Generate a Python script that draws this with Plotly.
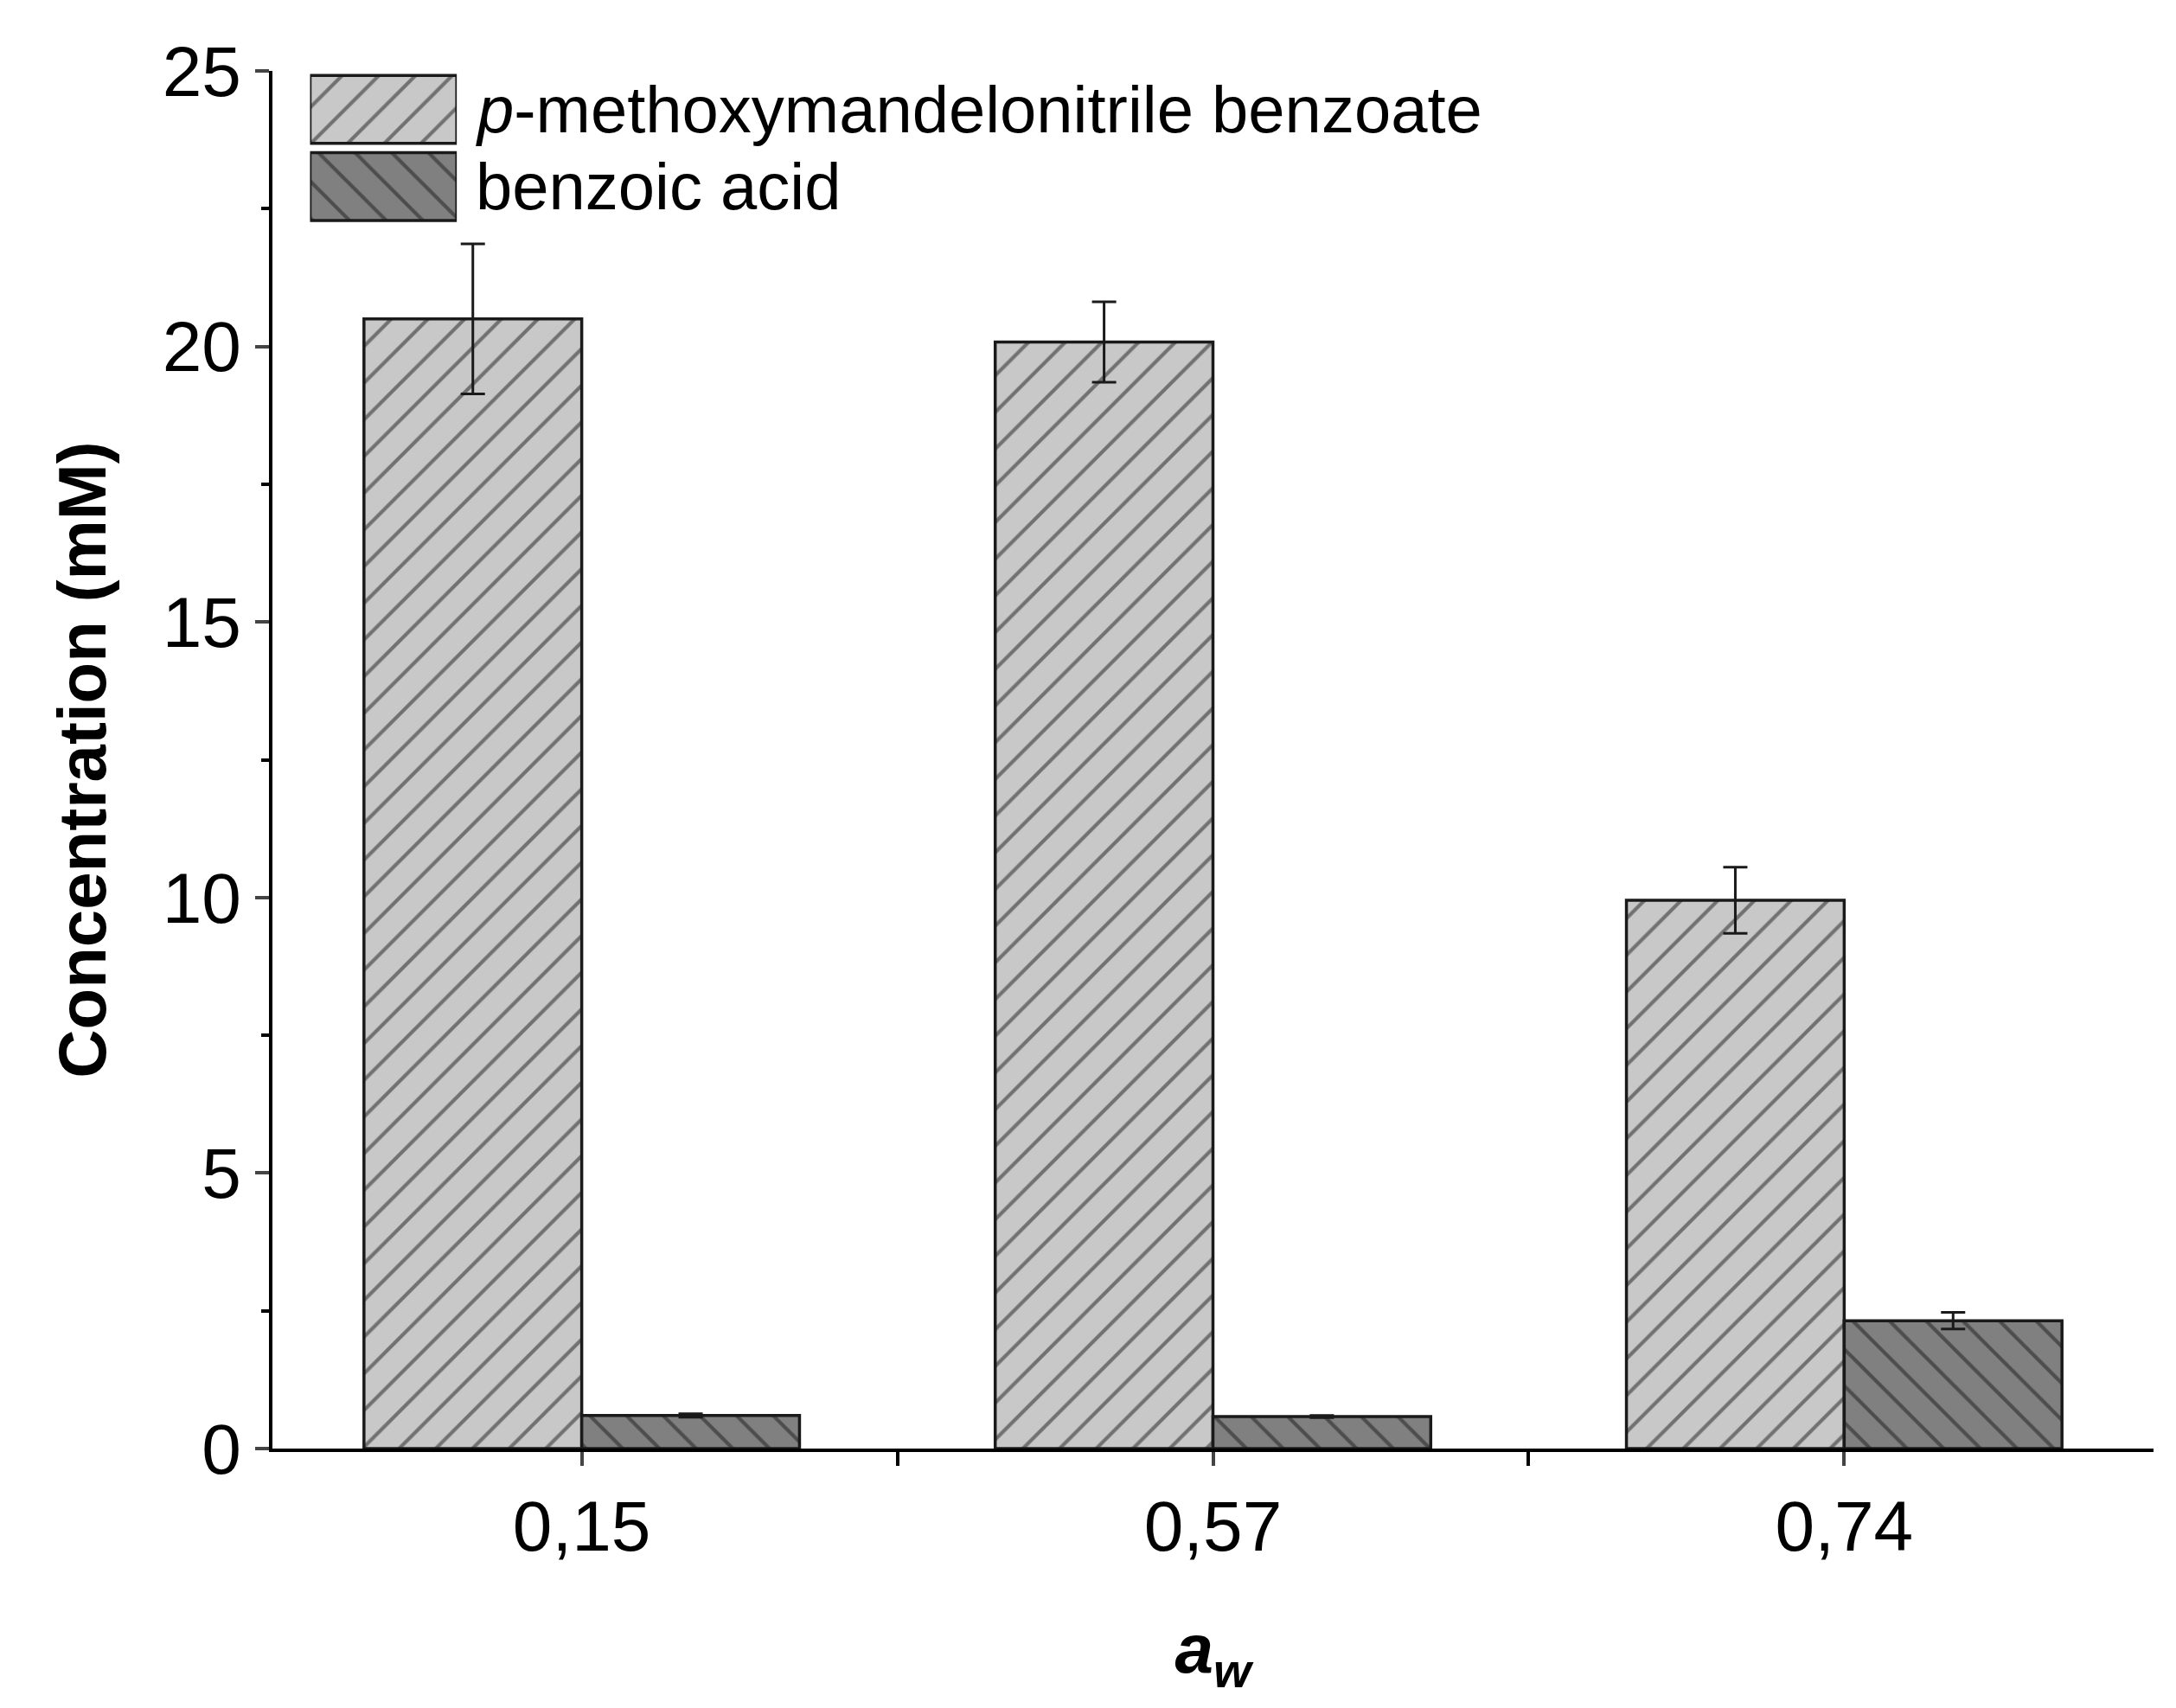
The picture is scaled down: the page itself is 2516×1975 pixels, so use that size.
import plotly.graph_objects as go

categories = ["0,15", "0,57", "0,74"]
ester = [20.5, 20.08, 9.95]
ester_err = [1.36, 0.73, 0.6]
acid = [0.6, 0.58, 2.32]
acid_err = [0.03, 0.02, 0.15]
names = ["<i>p</i>-methoxymandelonitrile benzoate", "benzoic acid"]

xpos = list(range(len(categories)))
font = "Liberation Sans, Arial"
edge = dict(color="#1a1a1a", width=3.5)
m1 = dict(color="#c8c8c8", line=edge, pattern=dict(shape="/", fgcolor="#1a1a1a", size=30, solidity=0.14))
m2 = dict(color="#808080", line=edge, pattern=dict(shape="\\", fgcolor="#1a1a1a", size=30, solidity=0.14))

fig = go.Figure()
fig.add_bar(x=xpos, y=ester, name=names[0], marker=m1, showlegend=False,
            error_y=dict(type="data", array=ester_err, color="#1a1a1a", thickness=3, width=14))
fig.add_bar(x=xpos, y=acid, name=names[1], marker=m2, showlegend=False,
            error_y=dict(type="data", array=acid_err, color="#1a1a1a", thickness=3, width=14))

# legend swatches drawn as patterned bars in a small inset axis
fig.add_bar(y=[1], x=[1], orientation="h", marker=m1, width=0.88, xaxis="x2", yaxis="y2", showlegend=False, hoverinfo="skip")
fig.add_bar(y=[0], x=[1], orientation="h", marker=m2, width=0.88, xaxis="x2", yaxis="y2", showlegend=False, hoverinfo="skip")
for i, n in enumerate(names):
    fig.add_annotation(x=0.107, y=1.0 - 0.028 - i * 0.056, xref="x domain", yref="y domain",
                       text=n, showarrow=False, xanchor="left", yanchor="middle", font=dict(size=76))

fig.update_layout(
    width=2516, height=1975, barmode="group", bargap=0.31, bargroupgap=0,
    plot_bgcolor="white", paper_bgcolor="white",
    margin=dict(l=307, r=34, t=74, b=308),
    font=dict(family=font, size=82, color="black"),
    showlegend=False,
    xaxis=dict(range=[-0.49, 2.49], tickvals=xpos, ticktext=categories, showgrid=False,
               showline=True, linecolor="black", linewidth=3.5, ticks="outside", ticklen=16,
               tickwidth=3.5, zeroline=False,
               minor=dict(tickvals=[0.5, 1.5], ticks="outside", ticklen=16, tickwidth=3.5, tickcolor="black"),
               title=dict(text="<b><i>a<sub>w</sub></i></b>", font=dict(size=80), standoff=70)),
    yaxis=dict(range=[0, 25], dtick=5, showgrid=False, showline=True, linecolor="black",
               linewidth=3.5, ticks="outside", ticklen=16, tickwidth=3.5, zeroline=False,
               minor=dict(dtick=2.5, ticks="outside", ticklen=9, tickwidth=3.5, tickcolor="black"),
               title=dict(text="<b>Concentration (mM)</b>", font=dict(size=78), standoff=40)),
    xaxis2=dict(domain=[0.02, 0.098], range=[0, 1], visible=False, anchor="y2", fixedrange=True),
    yaxis2=dict(domain=[0.888, 1.0], range=[-0.5, 1.5], visible=False, anchor="x2", fixedrange=True),
)
fig.write_html("out.html")
